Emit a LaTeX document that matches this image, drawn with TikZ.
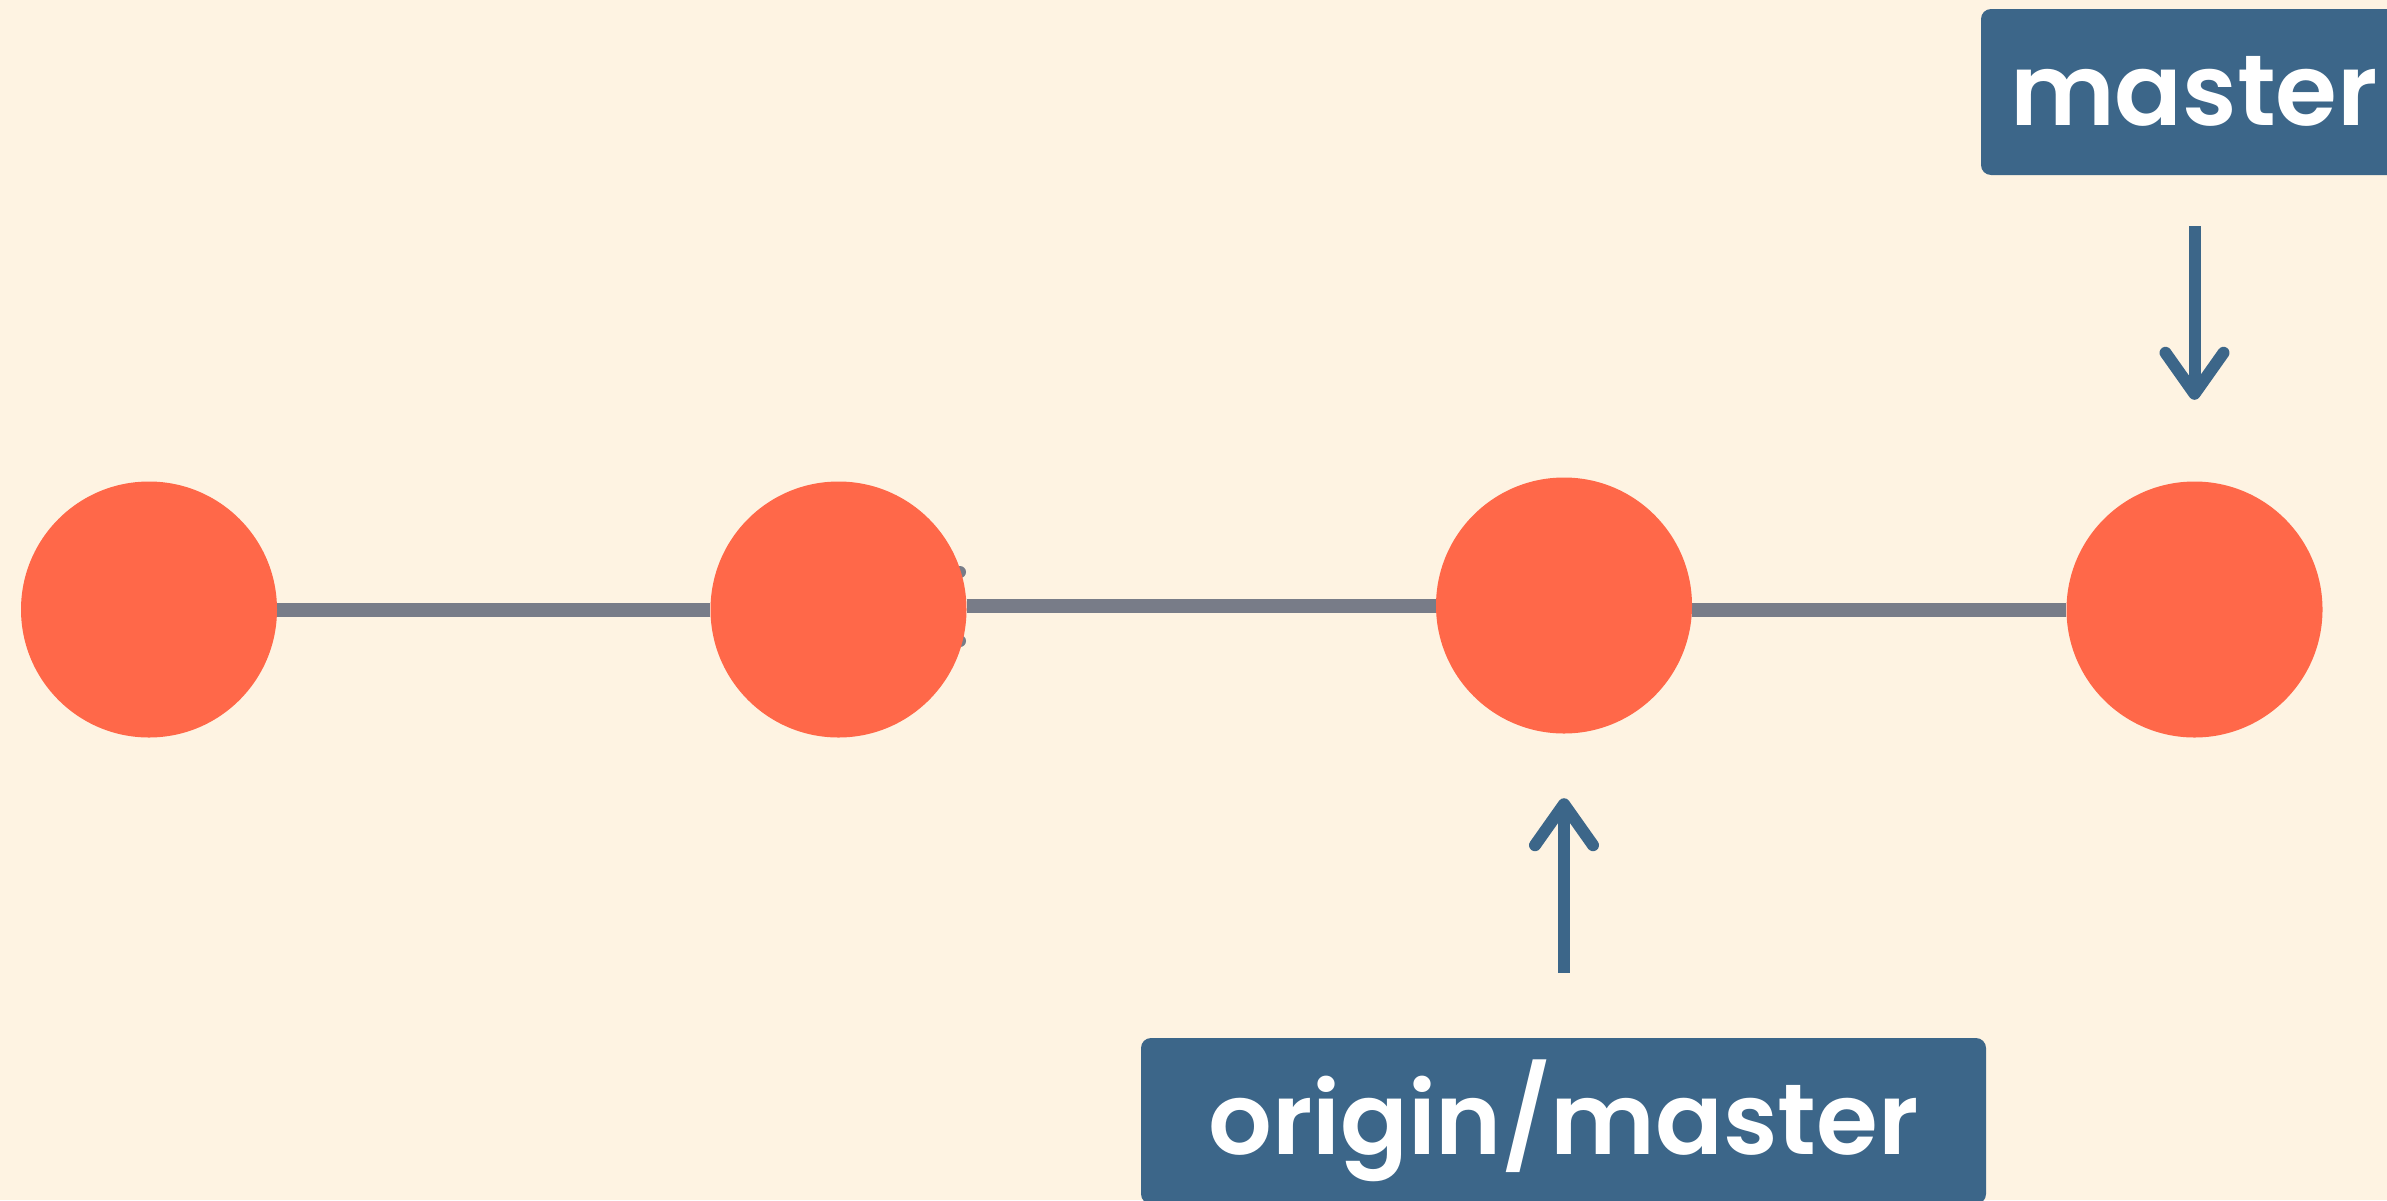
\documentclass[tikz,border=0pt]{standalone}
\usepackage{fontspec}
\newfontfamily\tagfont{Poppins SemiBold}
\usetikzlibrary{arrows.meta,backgrounds}

\definecolor{paper}{HTML}{FEF3E2}
\definecolor{commit}{HTML}{FF6849}
\definecolor{edgegray}{HTML}{787C88}
\definecolor{refblue}{HTML}{3C6689}

\tikzset{
  commitnode/.style={circle, fill=commit, draw=none, inner sep=0pt, minimum size=256pt},
  history/.style={draw=edgegray, line width=14pt},
  reftag/.style={rectangle, rounded corners=10pt, fill=refblue, text=white,
    font=\tagfont\fontsize{100}{110}\selectfont, inner sep=0pt,
    minimum height=166pt, text height=66pt, text depth=0pt},
  refptr/.style={draw=refblue, line width=12pt,
    -{Straight Barb[length=41pt, width=58pt, line cap=round, line join=round]}},
}

\begin{document}
\begin{tikzpicture}[x=1pt, y=-1pt]
  \useasboundingbox (0,0) rectangle (2387,1200);

  % commits
  \node[commitnode] (c1) at (149,609.5) {};
  \node[commitnode] (c2) at (838.5,609.5) {};
  \node[commitnode] (c3) at (1564,605.5) {};
  \node[commitnode] (c4) at (2194.5,609.5) {};

  % paper and history edges, behind the commits
  \begin{pgfonlayer}{background}
    \fill[paper] (0,0) rectangle (2387,1200);
    \draw[history] (c1.east) -- (c2.west);
    \draw[history] (c2.east |- c3.west) -- (c3.west);
    \draw[history] (c3.east |- c4.west) -- (c4.west);
    \fill[edgegray] (960,572) circle (6pt);
    \fill[edgegray] (960,641) circle (6pt);
  \end{pgfonlayer}

  % branch labels
  \node[reftag, minimum width=426pt] (mst) at (2194,92) {master};
  \node[reftag, minimum width=845pt] (ori) at (1563.5,1121) {origin/master};

  % pointers
  \draw[refptr, shorten <=51pt, shorten >=81.5pt] (mst.south -| c4) -- (c4.north);
  \draw[refptr, shorten <=65pt, shorten >=64.5pt] (ori.north -| c3) -- (c3.south);
\end{tikzpicture}
\end{document}
